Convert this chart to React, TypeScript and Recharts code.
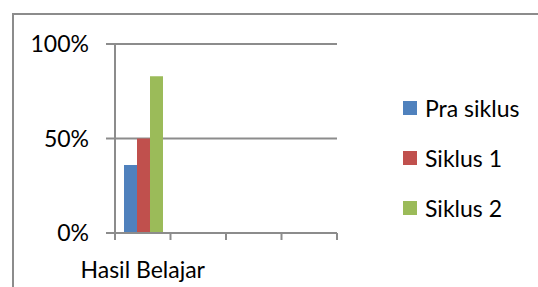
import { BarChart, Bar, XAxis, YAxis, CartesianGrid, Legend } from "recharts";

const categories = ["Hasil Belajar", "", "", ""];
const praSiklus = [36, null, null, null];
const siklus1 = [50, null, null, null];
const siklus2 = [83, null, null, null];
const yTicks = [0, 50, 100];

const seriesNames = ["Pra siklus", "Siklus 1", "Siklus 2"];
const colors = ["#4F81BD", "#C0504D", "#9BBB59"];

const FONT = "Lato, 'Open Sans', sans-serif";
const GRAY = "#8c8c8c";

const data = categories.map((name, i) => ({
  name,
  pra: praSiklus[i],
  s1: siklus1[i],
  s2: siklus2[i],
}));

// Excel puts the tick marks between categories, so draw them at the band edges
function CategoryTick({ x, y, payload, index, visibleTicksCount }: any) {
  const half = payload?.offset ?? 0;
  const last = index === visibleTicksCount - 1;
  return (
    <g>
      <line x1={x - half} x2={x - half} y1={y} y2={y + 7} stroke={GRAY} strokeWidth={2} />
      {last && (
        <line x1={x + half} x2={x + half} y1={y} y2={y + 7} stroke={GRAY} strokeWidth={2} />
      )}
      <text
        x={x}
        y={y + 29}
        dy="0.71em"
        textAnchor="middle"
        fontFamily={FONT}
        fontSize={23}
        fill="#000"
      >
        {payload.value}
      </text>
    </g>
  );
}

function LegendBox({ payload }: any) {
  return (
    <div style={{ fontFamily: FONT, fontSize: 23, color: "#000" }}>
      {(payload || []).map((p: any) => (
        <div
          key={p.value}
          style={{ display: "flex", alignItems: "center", height: 50 }}
        >
          <span
            style={{
              width: 14,
              height: 14,
              background: p.color,
              marginRight: 8,
              display: "inline-block",
            }}
          />
          <span>{p.value}</span>
        </div>
      ))}
    </div>
  );
}

export default function App() {
  return (
    <div
      style={{
        position: "absolute",
        left: 0,
        top: 0,
        width: 538,
        height: 287,
        overflow: "hidden",
        background: "#fff",
      }}
    >
      <div
        style={{
          position: "absolute",
          left: 12,
          top: 13,
          width: 560,
          height: 320,
          border: `2px solid ${GRAY}`,
          boxSizing: "border-box",
        }}
      />
      <BarChart
        width={538}
        height={287}
        data={data}
        margin={{ top: 44, right: 201, left: 0, bottom: 0 }}
        barCategoryGap={9}
        barGap={0}
      >
        <CartesianGrid vertical={false} stroke={GRAY} strokeWidth={2} />
        <XAxis
          dataKey="name"
          height={54}
          axisLine={{ stroke: GRAY, strokeWidth: 2 }}
          tickLine={false}
          tickSize={0}
          tickMargin={0}
          interval={0}
          tick={<CategoryTick />}
        />
        <YAxis
          width={115}
          domain={[0, 100]}
          ticks={yTicks}
          tickFormatter={(v) => `${v}%`}
          axisLine={{ stroke: GRAY, strokeWidth: 2 }}
          tickLine={{ stroke: GRAY, strokeWidth: 2 }}
          tickSize={9}
          tickMargin={17}
          tick={{ fontFamily: FONT, fontSize: 23, fill: "#000" }}
        />
        <Legend
          layout="horizontal"
          verticalAlign="middle"
          align="center"
          content={<LegendBox />}
          wrapperStyle={{ left: 403, top: 83, width: 135 }}
        />
        <Bar dataKey="pra" name={seriesNames[0]} fill={colors[0]} isAnimationActive={false} />
        <Bar dataKey="s1" name={seriesNames[1]} fill={colors[1]} isAnimationActive={false} />
        <Bar dataKey="s2" name={seriesNames[2]} fill={colors[2]} isAnimationActive={false} />
      </BarChart>
    </div>
  );
}
